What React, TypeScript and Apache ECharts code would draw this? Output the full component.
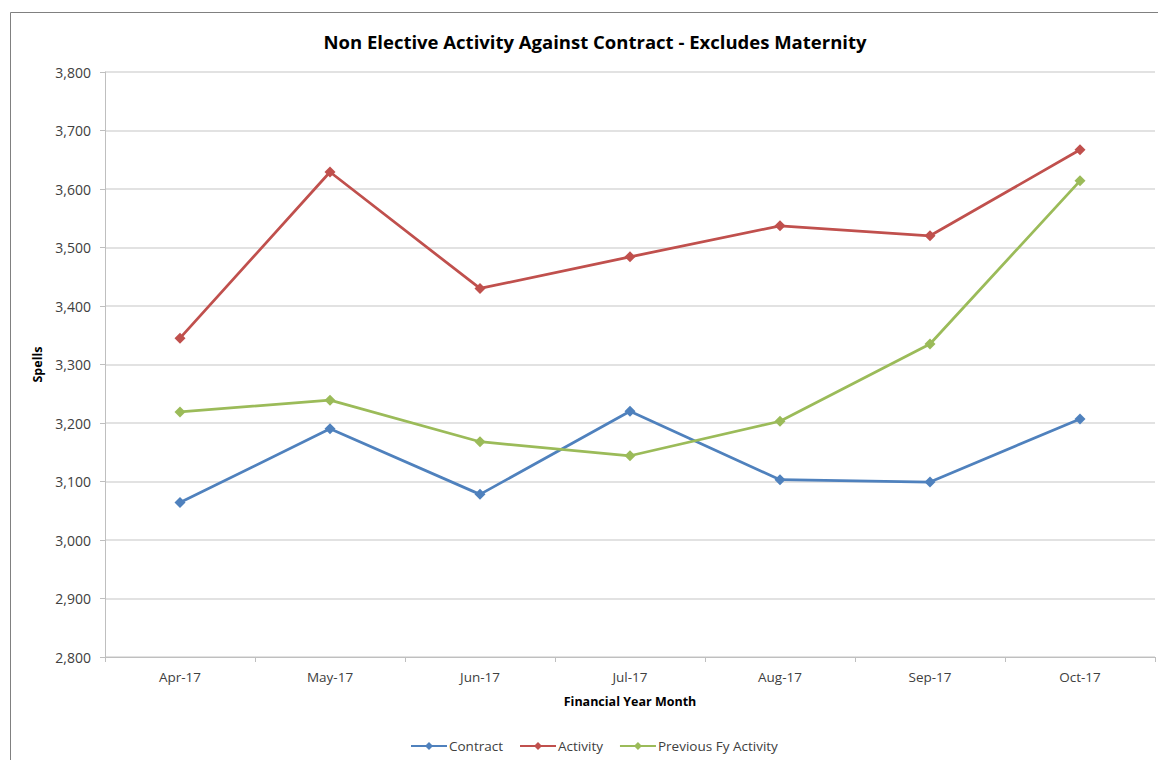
import React, { useEffect, useRef } from "react";
import * as echarts from "echarts";

const months = ["Apr-17", "May-17", "Jun-17", "Jul-17", "Aug-17", "Sep-17", "Oct-17"];
const contract = [3064, 3190, 3078, 3220, 3103, 3099, 3207];
const activity = [3345, 3629, 3430, 3484, 3537, 3520, 3667];
const previousFy = [3219, 3239, 3168, 3144, 3203, 3335, 3614];

const FONT = "'Open Sans', 'Noto Sans', sans-serif";

export default function App() {
  const ref = useRef<HTMLDivElement>(null);
  useEffect(() => {
    document.body.style.margin = "0";
    const chart = echarts.init(ref.current!, null, { renderer: "svg" });
    const mk = (name: string, data: number[], color: string) => ({
      name,
      type: "line",
      data,
      symbol: "diamond",
      symbolSize: 11,
      lineStyle: { width: 2.75, color },
      itemStyle: { color },
    });
    chart.setOption({
      animation: false,
      backgroundColor: "#ffffff",
      textStyle: { fontFamily: FONT },
      title: {
        text: "Non Elective Activity Against Contract - Excludes Maternity",
        left: 590,
        top: 27,
        textAlign: "center",
        textStyle: { fontFamily: FONT, fontSize: 18.5, fontWeight: "bold", color: "#000" },
      },
      graphic: [
        {
          type: "rect",
          shape: { x: 10.5, y: 12.5, width: 1200, height: 800 },
          style: { fill: "none", stroke: "#808080", lineWidth: 1 },
          silent: true,
        },
      ],
      grid: { left: 105, right: 3, top: 72, bottom: 103 },
      legend: {
        top: 734,
        left: 405,
        itemWidth: 36,
        itemHeight: 10,
        itemGap: 16,
        textStyle: { fontFamily: FONT, fontSize: 13.5, color: "#404040", padding: [0, 0, 0, -3] },
        data: ["Contract", "Activity", "Previous Fy Activity"],
      },
      xAxis: {
        type: "category",
        data: months,
        boundaryGap: true,
        name: "Financial Year Month",
        nameLocation: "middle",
        nameGap: 38,
        nameTextStyle: { fontFamily: FONT, fontSize: 12.5, fontWeight: "bold", color: "#000" },
        axisLine: { lineStyle: { color: "#bfbfbf", width: 1 } },
        axisTick: { show: true, length: 5, lineStyle: { color: "#bfbfbf" } },
        axisLabel: { fontFamily: FONT, fontSize: 13.5, color: "#404040", margin: 13 },
      },
      yAxis: {
        type: "value",
        min: 2800,
        max: 3800,
        interval: 100,
        name: "Spells",
        nameLocation: "middle",
        nameGap: 58,
        nameTextStyle: { fontFamily: FONT, fontSize: 12.5, fontWeight: "bold", color: "#000" },
        axisLine: { show: true, lineStyle: { color: "#bfbfbf", width: 1 } },
        axisTick: { show: true, length: 5, lineStyle: { color: "#bfbfbf" } },
        axisLabel: {
          fontFamily: FONT,
          fontSize: 14,
          color: "#404040",
          margin: 14,
          formatter: (v: number) => v.toLocaleString("en-US"),
        },
        splitLine: { lineStyle: { color: "#d9d9d9", width: 1.5 } },
      },
      series: [
        mk("Contract", contract, "#4F81BD"),
        mk("Activity", activity, "#C0504D"),
        mk("Previous Fy Activity", previousFy, "#9BBB59"),
      ],
    });
    return () => chart.dispose();
  }, []);
  return <div ref={ref} style={{ width: 1158, height: 760 }} />;
}
